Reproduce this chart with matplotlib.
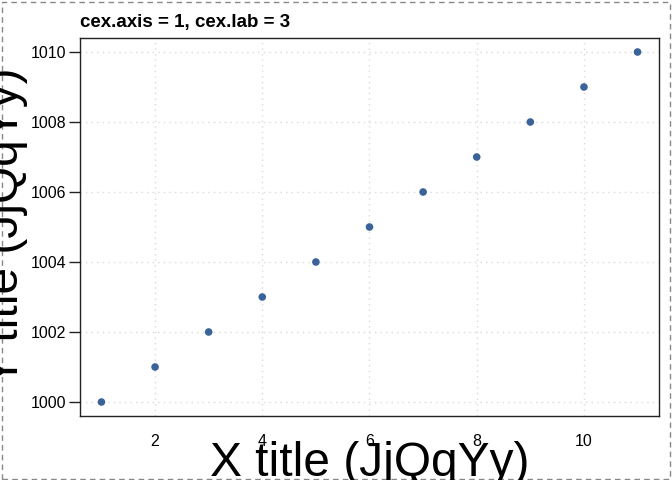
import numpy as np
import matplotlib
matplotlib.use("Agg")
import matplotlib.pyplot as plt
from matplotlib.patches import Rectangle

plt.rcParams['font.family'] = ['Liberation Sans', 'DejaVu Sans']

x = [1, 2, 3, 4, 5, 6, 7, 8, 9, 10, 11]
y = [1000, 1001, 1002, 1003, 1004, 1005, 1006, 1007, 1008, 1009, 1010]
xticks = [2, 4, 6, 8, 10]
yticks = [1000, 1002, 1004, 1006, 1008, 1010]

fig = plt.figure(figsize=(6.72, 4.8), dpi=100)
# axes box in pixels: left 80, right 659, top 38, bottom 416
ax = fig.add_axes([80/672, 1-416/480, (659-80)/672, (416-38)/480])

ax.scatter(x, y, s=30, color='#3A6399', edgecolors='none', zorder=3)
ax.set_xlim(0.6, 11.4)
ax.set_ylim(999.6, 1010.4)
ax.set_xticks(xticks)
ax.set_yticks(yticks)
ax.grid(True, color='#DADADA', linestyle=(0, (1, 3)), linewidth=1)
ax.set_axisbelow(True)

for s in ax.spines.values():
    s.set_color('#222222')
    s.set_linewidth(1)

ax.tick_params(axis='x', length=0, pad=13, labelsize=11.5)
ax.tick_params(axis='y', length=8, width=1, pad=2, labelsize=11.5, color='#222222')

ax.set_title('cex.axis = 1, cex.lab = 3', loc='left', fontsize=13.5,
             fontweight='bold', pad=8)

fig.text(369.5/672, 1-476/480, 'X title (JjQqYy)', fontsize=34.5,
         ha='center', va='baseline')
fig.text(28/672, 1-227/480, 'Y title (JjQqYy)', fontsize=34.5,
         rotation=90, ha='right', va='center')

fig.patches.append(Rectangle((2/672, 1/480), 668/672, 477/480,
                             transform=fig.transFigure, fill=False,
                             edgecolor='#888888', linestyle=(0, (4, 3)),
                             linewidth=1))

fig.savefig('out.png', dpi=100)
